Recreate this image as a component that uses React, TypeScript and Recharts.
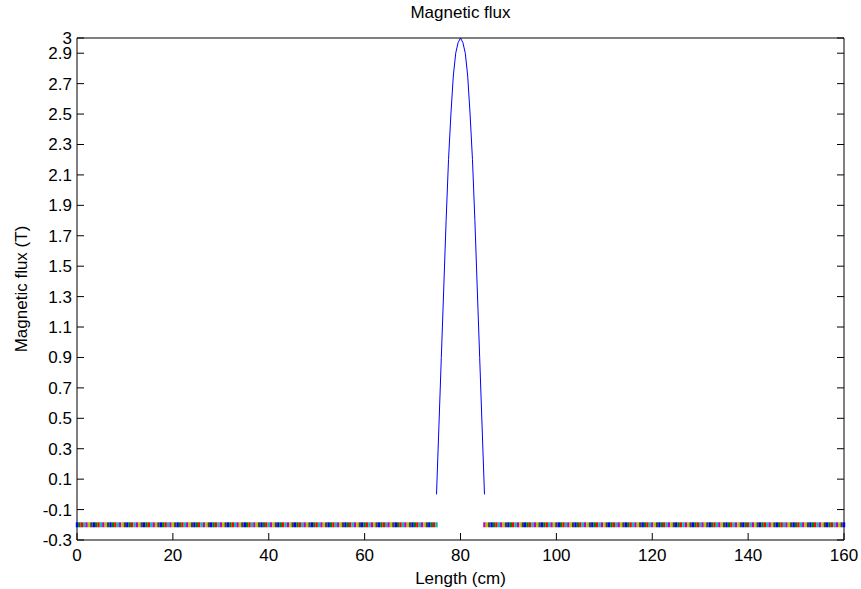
import { ComposedChart, Line, Scatter, XAxis, YAxis, Cell } from "recharts";

const xTicks = [0, 20, 40, 60, 80, 100, 120, 140, 160];
const yTicks = [-0.3, -0.1, 0.1, 0.3, 0.5, 0.7, 0.9, 1.1, 1.3, 1.5, 1.7, 1.9, 2.1, 2.3, 2.5, 2.7, 2.9, 3];

// flux pulse under the coil (cm, T)
const pulseX = [75, 75.5, 76, 76.5, 77, 77.5, 78, 78.5, 79, 79.5, 80, 80.5, 81, 81.5, 82, 82.5, 83, 83.5, 84, 84.5, 85];
const pulseY = [0, 0.45, 0.9, 1.35, 1.8, 2.2, 2.5, 2.75, 2.9, 2.97, 3, 2.97, 2.9, 2.75, 2.5, 2.2, 1.8, 1.35, 0.9, 0.45, 0];

// marker strip outside the coil
const stripRanges = [
  [0, 75],
  [85, 160],
];
const stripStep = 0.5;
const stripLevel = -0.2;
const stripColors = ["#0000ff", "#008000", "#ff0000", "#00bfbf", "#bf00bf", "#bfbf00", "#404040"];

const W = 861;
const H = 589;
const FONT = '"Liberation Sans", Arial, sans-serif';
const FS = 17;
const TICK = 7;

const pulseData = pulseX.map((x, i) => ({ x, y: pulseY[i] }));

const stripData: { x: number; y: number }[] = [];
stripRanges.forEach(([a, b]) => {
  for (let x = a; x <= b + 1e-9; x += stripStep) stripData.push({ x, y: stripLevel });
});

const fmt = (v: number) => String(v);

const LeftTick = ({ x, y, payload }: any) => (
  <g>
    <line x1={x + 5} x2={x + 5 + TICK} y1={y} y2={y} stroke="#000" />
    <text x={x} y={y} dy="0.35em" textAnchor="end" fontSize={FS} fontFamily={FONT} fill="#000">
      {fmt(payload.value)}
    </text>
  </g>
);

const RightTick = ({ x, y }: any) => <line x1={x - 5} x2={x - 5 - TICK} y1={y} y2={y} stroke="#000" />;

const BottomTick = ({ x, y, payload }: any) => (
  <g>
    <line x1={x} x2={x} y1={y - 9} y2={y - 9 - TICK} stroke="#000" />
    <text x={x} y={y} dy="0.71em" textAnchor="middle" fontSize={FS} fontFamily={FONT} fill="#000">
      {fmt(payload.value)}
    </text>
  </g>
);

const TopTick = ({ x, y }: any) => <line x1={x} x2={x} y1={y + 5} y2={y + 5 + TICK} stroke="#000" />;

const StripMark = (props: any) => (
  <rect x={props.cx - 1.2} y={props.cy - 2.5} width={2.4} height={5} fill={props.fill} />
);

export default function App() {
  return (
    <div style={{ position: "absolute", left: 0, top: 0, width: W, height: H, background: "#fff", fontFamily: FONT }}>
      <ComposedChart width={W} height={H} margin={{ top: 28, right: 7, bottom: 19, left: 17 }}>
        <XAxis
          dataKey="x"
          type="number"
          domain={[0, 160]}
          ticks={xTicks}
          interval={0}
          height={30}
          tickSize={0}
          tickMargin={9}
          tick={<BottomTick />}
          axisLine={{ stroke: "#000" }}
          tickLine={false}
        />
        <XAxis
          xAxisId="t"
          orientation="top"
          dataKey="x"
          type="number"
          domain={[0, 160]}
          ticks={xTicks}
          interval={0}
          height={10}
          tickSize={0}
          tickMargin={5}
          tick={<TopTick />}
          axisLine={{ stroke: "#000" }}
          tickLine={false}
        />
        <YAxis
          type="number"
          domain={[-0.3, 3]}
          ticks={yTicks}
          interval={0}
          width={60}
          tickSize={0}
          tickMargin={5}
          tick={<LeftTick />}
          axisLine={{ stroke: "#000" }}
          tickLine={false}
          allowDataOverflow
        />
        <YAxis
          yAxisId="r"
          orientation="right"
          type="number"
          domain={[-0.3, 3]}
          ticks={yTicks}
          interval={0}
          width={10}
          tickSize={0}
          tickMargin={5}
          tick={<RightTick />}
          axisLine={{ stroke: "#000" }}
          tickLine={false}
          allowDataOverflow
        />
        <Scatter data={stripData} dataKey="y" shape={<StripMark />} isAnimationActive={false}>
          {stripData.map((_, i) => (
            <Cell key={i} fill={stripColors[i % stripColors.length]} />
          ))}
        </Scatter>
        <Line
          data={pulseData}
          dataKey="y"
          type="linear"
          stroke="#0000ff"
          strokeWidth={1}
          dot={false}
          isAnimationActive={false}
        />
      </ComposedChart>
      <div style={{ position: "absolute", left: 0, width: 921, top: 3, textAlign: "center", fontSize: FS }}>
        Magnetic flux
      </div>
      <div style={{ position: "absolute", left: 0, width: 921, top: 569, textAlign: "center", fontSize: FS }}>
        Length (cm)
      </div>
      <div
        style={{
          position: "absolute",
          left: 22,
          top: 289,
          fontSize: FS,
          whiteSpace: "nowrap",
          transform: "translate(-50%, -50%) rotate(-90deg)",
        }}
      >
        Magnetic flux (T)
      </div>
    </div>
  );
}
